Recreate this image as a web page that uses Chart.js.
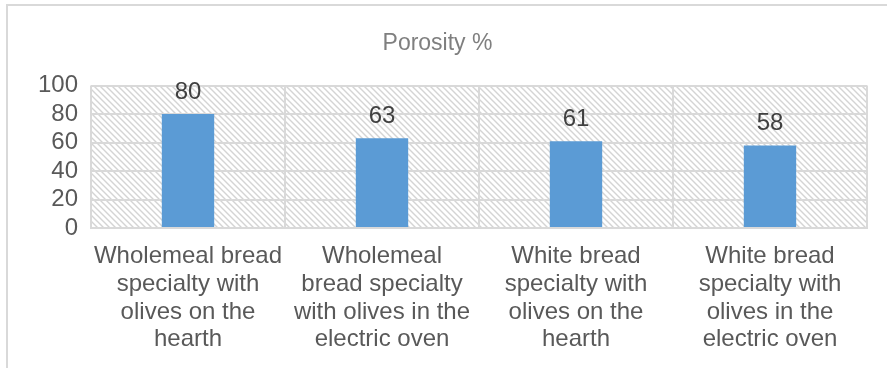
<!DOCTYPE html>
<html>
<head>
<meta charset="utf-8">
<script src="https://cdn.jsdelivr.net/npm/chart.js@4"></script>
<style>
  body { margin: 0; background: #fff; }
  #wrap {
    position: absolute; left: 6px; top: 4px;
    width: 881px; height: 364px;
    border-left: 2px solid #d9d9d9; border-top: 2px solid #d9d9d9;
  }
</style>
</head>
<body>
<div id="wrap"><canvas id="chart" width="881" height="364"></canvas></div>
<script>
const categories = [
    ['Wholemeal bread', 'specialty with', 'olives on the', 'hearth'],
    ['Wholemeal', 'bread specialty', 'with olives in the', 'electric oven'],
    ['White bread', 'specialty with', 'olives on the', 'hearth'],
    ['White bread', 'specialty with', 'olives in the', 'electric oven']
];
const porosity = [80, 63, 61, 58];
const yTicks = [0, 20, 40, 60, 80, 100];

// diagonal hatch tile for the plot area
const makeHatch = (ctx) => {
    const tile = document.createElement('canvas');
    tile.width = 6; tile.height = 6;
    const t = tile.getContext('2d');
    t.strokeStyle = '#d4d4d4';
    t.lineWidth = 1.4;
    t.beginPath();
    t.moveTo(-1, -1); t.lineTo(7, 7);
    t.moveTo(-4, 2); t.lineTo(2, 8);
    t.moveTo(4, -2); t.lineTo(8, 2);
    t.stroke();
    return ctx.createPattern(tile, 'repeat');
};

const hatchPlugin = {
    id: 'hatch',
    beforeDraw(chart) {
        const { ctx, chartArea: a } = chart;
        ctx.save();
        ctx.fillStyle = makeHatch(ctx);
        ctx.fillRect(a.left, a.top, a.right - a.left, a.bottom - a.top);
        ctx.restore();
    }
};

const valueLabels = {
    id: 'valueLabels',
    afterDatasetsDraw(chart) {
        const { ctx } = chart;
        const meta = chart.getDatasetMeta(0);
        ctx.save();
        ctx.font = '24px "Liberation Sans", Arial, sans-serif';
        ctx.fillStyle = '#404040';
        ctx.textAlign = 'center';
        ctx.textBaseline = 'middle';
        meta.data.forEach((bar, i) => {
            ctx.fillText(porosity[i], bar.x, bar.y - 22);
        });
        ctx.restore();
    }
};

new Chart(document.getElementById('chart'), {
    type: 'bar',
    data: {
        labels: categories,
        datasets: [{
            label: 'Porosity %',
            data: porosity,
            backgroundColor: '#5b9bd5',
            categoryPercentage: 1,
            barPercentage: 0.27
        }]
    },
    options: {
        responsive: false,
        animation: false,
        layout: { padding: { left: 0, right: 22, top: 0, bottom: 0 } },
        plugins: {
            legend: { display: false },
            tooltip: { enabled: false },
            title: {
                display: true,
                text: 'Porosity %',
                color: '#7f7f7f',
                font: { family: '"Liberation Sans", Arial, sans-serif', size: 23, weight: 'normal' },
                padding: { top: 24, bottom: 28 }
            }
        },
        scales: {
            y: {
                min: 0, max: 100,
                afterBuildTicks: (s) => { s.ticks = yTicks.map(v => ({ value: v })); },
                afterFit: (s) => { s.width = 83; },
                grid: { color: '#d9d9d9', lineWidth: 2, drawTicks: false },
                border: { display: false },
                ticks: {
                    padding: 13,
                    autoSkip: false,
                    color: '#595959',
                    font: { family: '"Liberation Sans", Arial, sans-serif', size: 24 }
                }
            },
            x: {
                afterFit: (s) => { s.height = 142; },
                grid: { color: '#d9d9d9', lineWidth: 2, drawTicks: false, offset: true },
                border: { color: '#d9d9d9', width: 2 },
                ticks: {
                    padding: 15,
                    maxRotation: 0,
                    autoSkip: false,
                    color: '#595959',
                    font: { family: '"Liberation Sans", Arial, sans-serif', size: 24, lineHeight: 1.15 }
                }
            }
        }
    },
    plugins: [hatchPlugin, valueLabels]
});
</script>
</body>
</html>
